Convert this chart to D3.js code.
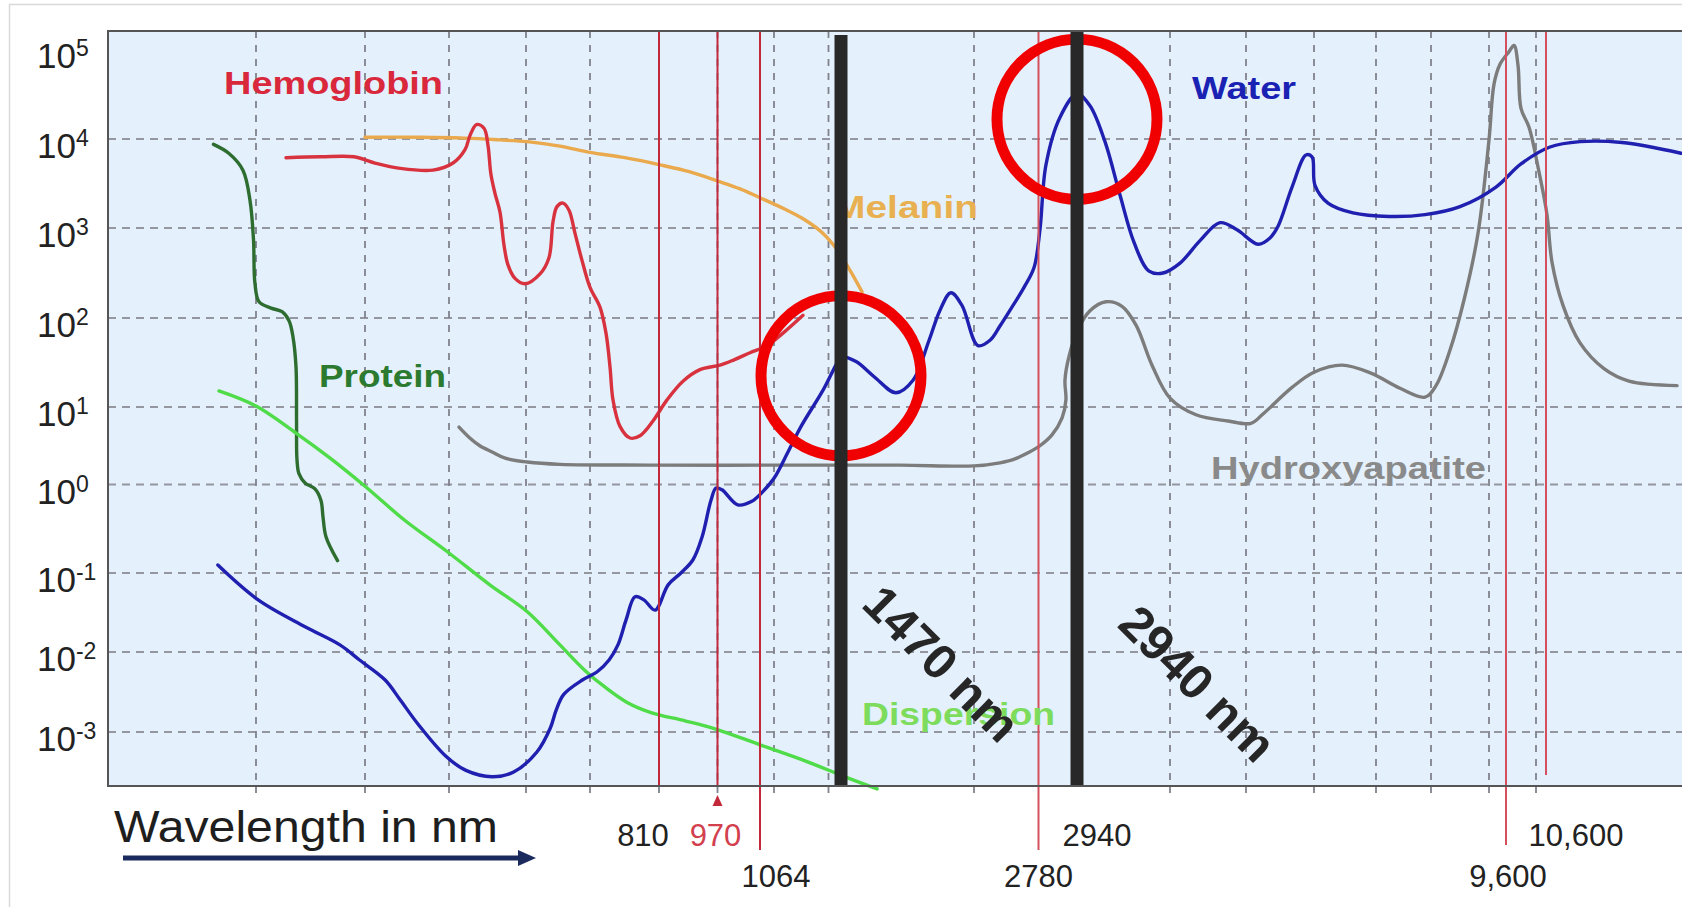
<!DOCTYPE html>
<html>
<head>
<meta charset="utf-8">
<script src="https://cdn.jsdelivr.net/npm/d3@7"></script>
<style>
  html, body { margin: 0; padding: 0; background: #fff; }
  svg { display: block; }
  text { font-family: "Liberation Sans", Arial, Helvetica, sans-serif; }
</style>
</head>
<body>
<div id="chart"></div>
<script>
//////////////////////////////////////////////////////////////
////////////////////////// Data //////////////////////////////
//////////////////////////////////////////////////////////////
// absorption, log10 of the coefficient, against wavelength in nm
var decades = [5, 4, 3, 2, 1, 0, -1, -2, -3];
var gridWl = [200, 300, 400, 500, 600, 810, 970, 1100, 1400, 2000, 4000, 5000, 6000, 7000, 8000, 9000, 10000];

var laserWl = [810, 970, 1064, 2780, 9600, 10600];
var beamWl = [1470, 2940];
var beamText = ["1470 nm", "2940 nm"];
var tickWl = [810, 970, 1064, 2780, 2940, 9600, 10600];
var tickText = ["810", "970", "1064", "2780", "2940", "9,600", "10,600"];
// the two circled water peaks [nm, log10]
var highlight = [[1470, 1.35], [2940, 4.22]];

var seriesNames = ["Hemoglobin", "Protein", "Melanin", "Water", "Hydroxyapatite", "Dispersion"];

var protein = [[161,3.94],[175,3.84],[188,3.65],[194.5,3.31],[197.7,2.87],[199,2.39],[202.8,2.18],[213.8,2.11],
  [223.9,2.07],[230.3,1.97],[233.9,1.79],[236.7,1.45],[237.2,0.83],[237.6,0.32],[239.4,0.14],[245,0.02],
  [254.1,-0.05],[259.6,-0.18],[261.5,-0.37],[264.2,-0.59],[274.8,-0.86]];

var hemoglobin = [[227.5,3.79],[259.6,3.80],[289.9,3.80],[311.9,3.73],[341.7,3.67],[381,3.65],[405.2,3.73],
  [420.8,3.88],[427.3,4.04],[435.7,4.16],[445.5,4.12],[450.6,3.93],[454.5,3.60],[459.7,3.39],[466.2,3.18],
  [471.4,2.81],[476.6,2.59],[485.7,2.44],[498.7,2.38],[521.9,2.49],[535.9,2.67],[542.2,3.07],[548.4,3.24],
  [557.8,3.28],[567.2,3.20],[576.6,2.94],[587.5,2.64],[600,2.34],[630.4,2.12],[648.7,1.83],[660.9,1.45],
  [670,1.08],[691.3,0.75],[721.7,0.60],[752.2,0.63],[791.7,0.82],[831.9,1.08],[875.6,1.29],[922.1,1.42],
  [975.5,1.47],[1006.5,1.53],[1041.9,1.61],[1082,1.69],[1149.5,1.83],[1259.6,2.03]];

var melanin = [[300,4.02],[365,4.02],[420,4.01],[466,3.99],[502,3.97],[553,3.92],[600,3.85],[706,3.79],
  [813,3.71],[895,3.63],[969,3.53],[1020,3.44],[1064,3.34],[1161,3.21],[1271,3.09],[1370,2.94],[1448,2.76],
  [1506,2.53],[1554,2.29]];

var water = [[165,-0.91],[202,-1.34],[245,-1.68],[277,-1.91],[295,-2.10],[324,-2.35],[342,-2.60],[363,-2.90],
  [396,-3.30],[422,-3.48],[456,-3.56],[484,-3.50],[517,-3.25],[538,-2.95],[547,-2.73],[559,-2.53],[588,-2.35],
  [621,-2.25],[658,-2.10],[685,-1.91],[710,-1.59],[737,-1.30],[764,-1.34],[798,-1.47],[835,-1.15],[870,-1.00],
  [903,-0.85],[928,-0.59],[952,-0.18],[966,-0.04],[980,-0.06],[1015,-0.23],[1046,-0.19],[1067,-0.10],
  [1100,0.08],[1177,0.42],[1249,0.75],[1370,1.19],[1459,1.53],[1474,1.56],[1530,1.51],[1602,1.34],
  [1689,1.16],[1757,1.30],[1821,1.75],[1865,2.09],[1908,2.28],[1952,2.14],[2048,1.69],[2194,1.75],
  [2314,1.91],[2472,2.14],[2605,2.34],[2726,2.56],[2786,2.98],[2811,3.71],[2869,4.24],[2940,4.50],
  [3088,4.37],[3259,3.97],[3430,3.37],[3590,2.84],[3761,2.52],[3920,2.50],[4132,2.61],[4395,2.86],
  [4658,3.06],[4882,2.98],[5177,2.82],[5353,2.89],[5471,3.02],[5677,3.46],[5882,3.82],[5971,3.80],
  [6016,3.48],[6226,3.28],[6629,3.17],[7236,3.13],[7891,3.15],[8500,3.24],[9247,3.46],[9800,3.72],
  [10877,3.91],[12950,3.97],[15853,3.96],[19931,3.84]];

var hydroxyapatite = [[413,0.74],[427,0.60],[440,0.50],[456,0.42],[473,0.34],[502,0.29],[553,0.26],[783,0.25],
  [1243,0.25],[1705,0.25],[2000,0.24],[2314,0.28],[2472,0.32],[2653,0.41],[2786,0.50],[2836,0.64],
  [2878,0.86],[2894,1.08],[2890,1.30],[2907,1.57],[2951,1.87],[3088,2.08],[3271,2.18],[3453,2.13],
  [3613,1.92],[3795,1.47],[4000,1.10],[4342,0.90],[4763,0.82],[5074,0.79],[5250,0.91],[5677,1.22],
  [6000,1.39],[6452,1.47],[6919,1.38],[7436,1.21],[7891,1.11],[8086,1.24],[8328,1.64],[8569,2.20],
  [8810,2.94],[9000,3.99],[9177,4.61],[9388,4.83],[9640,4.97],[9707,5.04],[9760,4.82],[9800,4.34],
  [9907,4.13],[10180,3.63],[10669,3.15],[11015,2.62],[11775,2.14],[12950,1.72],[14609,1.43],
  [16337,1.29],[19655,1.24]];

var dispersion = [[166,1.18],[200,1.01],[237,0.66],[268,0.34],[300,-0.02],[348,-0.41],[398,-0.76],
  [453,-1.15],[502,-1.49],[553,-1.91],[592,-2.23],[646,-2.44],[713,-2.63],[788,-2.76],[881,-2.86],
  [963,-2.96],[1064,-3.16],[1271,-3.36],[1486,-3.56],[1614,-3.71]];

//////////////////////////////////////////////////////////////
///////////////////////// Layout /////////////////////////////
//////////////////////////////////////////////////////////////
var W = 1682, H = 907;
var plot = {left: 108, top: 31, right: 1682, bottom: 786};

// the wavelength axis is not to scale: piecewise between the marked wavelengths
var axisWl = [200, 300, 400, 500, 600, 810, 970, 1064, 1100, 1400, 1470, 2000, 2780, 2940,
  4000, 5000, 6000, 7000, 8000, 9000, 9600, 10000, 10600, 20000];
var axisPx = [256, 365, 449, 526, 590, 659, 717.5, 760, 774, 828.5, 841, 974, 1038.5, 1077,
  1170, 1246, 1314, 1376, 1431, 1489, 1506, 1536, 1546, 1682];
var x = d3.scaleLinear().domain(axisWl).range(axisPx);
var y = d3.scaleLinear().domain(decades).range([49, 139, 228, 318, 407, 484.5, 573, 652, 732]);

var svg = d3.select("#chart").append("svg").attr("width", W).attr("height", H);

// outer frame
svg.append("path").attr("d", "M9.5," + H + "V4.5H" + W)
  .attr("fill", "none").attr("stroke", "#d9d9d9").attr("stroke-width", 1.5);

svg.append("rect")
  .attr("x", plot.left).attr("y", plot.top)
  .attr("width", plot.right - plot.left).attr("height", plot.bottom - plot.top)
  .attr("fill", "#e4f0fc");

// grid
svg.selectAll(".hgrid").data(decades.filter(d => d < 5)).enter().append("line")
  .attr("x1", plot.left).attr("x2", plot.right)
  .attr("y1", d => y(d)).attr("y2", d => y(d))
  .attr("stroke", "#9496a0").attr("stroke-width", 2).attr("stroke-dasharray", "8,6");

svg.selectAll(".vgrid").data(gridWl).enter().append("line")
  .attr("x1", d => x(d)).attr("x2", d => x(d))
  .attr("y1", plot.top).attr("y2", plot.bottom + 7)
  .attr("stroke", "#80828c").attr("stroke-width", 1.8).attr("stroke-dasharray", "7,7");

// curves
var line = d3.line()
  .x(d => x(d[0]))
  .y(d => y(d[1]))
  .curve(d3.curveCatmullRom.alpha(0.5));

var curves = [
  {data: hydroxyapatite, color: "#7c7c7c"},
  {data: melanin, color: "#e9a94c"},
  {data: hemoglobin, color: "#d8323e"},
  {data: protein, color: "#2d6d30"},
  {data: dispersion, color: "#4fdc48"},
  {data: water, color: "#2020b0"}
];
svg.selectAll(".curve").data(curves).enter().append("path")
  .attr("d", d => line(d.data))
  .attr("fill", "none")
  .attr("stroke", d => d.color)
  .attr("stroke-width", 3.4)
  .attr("stroke-linejoin", "round")
  .attr("stroke-linecap", "round");

// laser lines
var laserEnd = [plot.bottom, plot.bottom, 850, 850, 845, 775];
var laserColor = ["#c22a3c", "#c22a3c", "#c22a3c", "#d4505e", "#d4505e", "#d4505e"];
svg.selectAll(".laser").data(laserWl).enter().append("line")
  .attr("x1", d => x(d)).attr("x2", d => x(d))
  .attr("y1", plot.top).attr("y2", (d, i) => laserEnd[i])
  .attr("stroke", (d, i) => laserColor[i]).attr("stroke-width", 2);

// marker under 970
svg.append("path")
  .attr("d", "M" + x(970) + ",795l-5,11h10z")
  .attr("fill", "#c22a3c");

// series names
var nameLayout = [
  {x: 224, y: 94, len: 219, color: "#d9283b"},
  {x: 319, y: 387, len: 127, color: "#2b7a2f"},
  {x: 833, y: 218, len: 145, color: "#e8b050"},
  {x: 1192, y: 98.5, len: 104, color: "#1a22b4"},
  {x: 1211, y: 479, len: 275, color: "#8a8a8a"},
  {x: 862, y: 725, len: 193, color: "#7ddc5c"}
];
svg.selectAll(".name").data(seriesNames).enter().append("text")
  .attr("x", (d, i) => nameLayout[i].x)
  .attr("y", (d, i) => nameLayout[i].y)
  .attr("textLength", (d, i) => nameLayout[i].len)
  .attr("lengthAdjust", "spacingAndGlyphs")
  .attr("fill", (d, i) => nameLayout[i].color)
  .style("font-size", "32px").style("font-weight", "bold")
  .text(d => d);

// circles round the water peaks
svg.selectAll(".ring").data(highlight).enter().append("circle")
  .attr("cx", d => x(d[0])).attr("cy", d => y(d[1])).attr("r", 80)
  .attr("fill", "none").attr("stroke", "#f00000").attr("stroke-width", 11);

// thick bars for the two wavelengths
var beamTop = [35, plot.top];
svg.selectAll(".beam").data(beamWl).enter().append("rect")
  .attr("x", d => x(d) - 6.5).attr("width", 13)
  .attr("y", (d, i) => beamTop[i]).attr("height", (d, i) => plot.bottom - beamTop[i])
  .attr("fill", "#282828");

// axis frame
svg.append("path")
  .attr("d", "M" + plot.right + "," + plot.top + "H" + plot.left + "V" + plot.bottom + "H" + plot.right)
  .attr("fill", "none").attr("stroke", "#555").attr("stroke-width", 2);

// rotated beam labels
var beamLabel = [{dx: 19, y: 606}, {dx: 39, y: 626}];
svg.selectAll(".beamtext").data(beamText).enter().append("text")
  .attr("transform", (d, i) => "translate(" + (x(beamWl[i]) + beamLabel[i].dx) + "," + beamLabel[i].y + ") rotate(45)")
  .attr("textLength", 197).attr("lengthAdjust", "spacingAndGlyphs")
  .attr("fill", "#262626")
  .style("font-size", "49px").style("font-weight", "bold")
  .text(d => d);

// y tick labels
svg.selectAll(".ytick").data(decades).enter().append("text")
  .attr("x", 37).attr("y", d => y(d) + 19)
  .attr("fill", "#222")
  .style("font-size", "35px")
  .each(function(d) {
    var t = d3.select(this);
    t.append("tspan").text("10");
    t.append("tspan").attr("dy", -12).style("font-size", "23px").text(d);
  });

// wavelength labels under the axis
var tickRow = [0, 0, 1, 1, 0, 1, 0];
var tickNudge = [-16, -2, 16, 0, 20, 2, 30];
var rowY = [846, 887];
svg.selectAll(".xtick").data(tickWl).enter().append("text")
  .attr("x", (d, i) => x(d) + tickNudge[i])
  .attr("y", (d, i) => rowY[tickRow[i]])
  .attr("text-anchor", "middle")
  .attr("fill", d => d === 970 ? "#d2404e" : "#222")
  .style("font-size", "31px")
  .text((d, i) => tickText[i]);

// axis title and arrow
svg.append("text")
  .attr("x", 114).attr("y", 842)
  .attr("textLength", 384).attr("lengthAdjust", "spacingAndGlyphs")
  .attr("fill", "#1e1e1e")
  .style("font-size", "45px")
  .text("Wavelength in nm");

svg.append("line")
  .attr("x1", 123).attr("x2", 522).attr("y1", 858).attr("y2", 858)
  .attr("stroke", "#1a2a5c").attr("stroke-width", 5);
svg.append("path")
  .attr("d", "M536,858l-18,-8v16z")
  .attr("fill", "#1a2a5c");
</script>
</body>
</html>
